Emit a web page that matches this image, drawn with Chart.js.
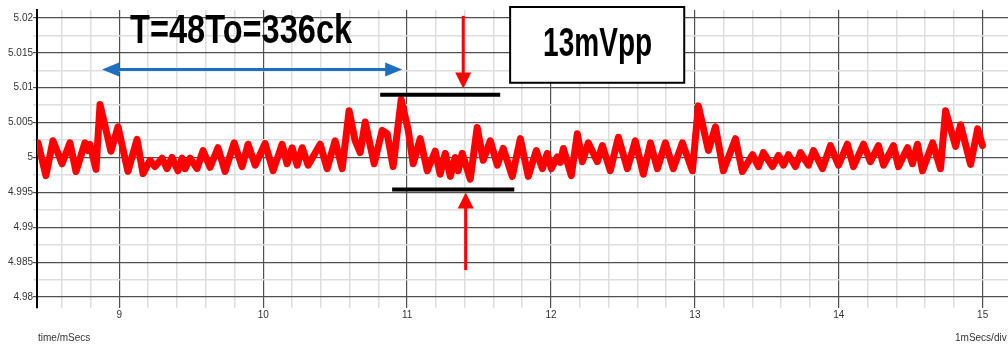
<!doctype html>
<html lang="en">
<head>
<meta charset="utf-8">
<title>Ripple 13mVpp</title>
<script src="https://cdn.jsdelivr.net/npm/chart.js@4.4.1/dist/chart.umd.min.js"></script>
<style>
  body { margin: 0; background: #fff; }
  canvas { display: block; }
</style>
</head>
<body>
<canvas id="scope" width="1008" height="345"></canvas>
<script>
// time in ms, output in V
var times = [
  8.428, 8.435, 8.490, 8.539, 8.574, 8.602, 8.657, 8.699, 8.761, 8.782,
  8.796, 8.838, 8.866, 8.942, 8.991, 9.060, 9.123, 9.165, 9.213, 9.248,
  9.297, 9.332, 9.366, 9.408, 9.436, 9.457, 9.492, 9.540, 9.582, 9.631,
  9.686, 9.735, 9.798, 9.853, 9.895, 9.944, 10.013, 10.069, 10.131, 10.166,
  10.201, 10.236, 10.271, 10.312, 10.396, 10.444, 10.500, 10.549, 10.597, 10.639,
  10.674, 10.709, 10.771, 10.827, 10.862, 10.903, 10.959, 11.008, 11.042, 11.091,
  11.140, 11.195, 11.230, 11.265, 11.300, 11.334, 11.355, 11.383, 11.439, 11.487,
  11.529, 11.578, 11.627, 11.668, 11.731, 11.787, 11.842, 11.898, 11.940, 11.974,
  12.002, 12.044, 12.065, 12.086, 12.141, 12.183, 12.218, 12.259, 12.322, 12.357,
  12.412, 12.468, 12.531, 12.586, 12.642, 12.691, 12.739, 12.795, 12.850, 12.913,
  12.983, 13.024, 13.094, 13.143, 13.198, 13.282, 13.330, 13.400, 13.442, 13.476,
  13.539, 13.581, 13.615, 13.650, 13.699, 13.734, 13.789, 13.824, 13.887, 13.942,
  13.998, 14.060, 14.102, 14.172, 14.220, 14.276, 14.311, 14.380, 14.415, 14.478,
  14.512, 14.547, 14.582, 14.652, 14.707, 14.742, 14.812, 14.846, 14.916, 14.965,
  14.999
];
var volts = [
  5.0013, 5.0021, 4.9974, 5.0024, 5.0006, 4.9991, 5.0021, 4.9980, 5.0021, 5.0010,
  5.0019, 4.9983, 5.0076, 5.0009, 5.0044, 4.9980, 5.0026, 4.9977, 4.9996, 4.9987,
  4.9999, 4.9984, 5.0000, 4.9981, 4.9999, 4.9984, 4.9999, 4.9984, 5.0010, 4.9986,
  5.0014, 4.9980, 5.0021, 4.9987, 5.0019, 4.9989, 5.0020, 4.9981, 5.0019, 4.9991,
  5.0014, 4.9989, 5.0014, 4.9989, 5.0019, 4.9984, 5.0024, 4.9984, 5.0067, 5.0024,
  5.0007, 5.0051, 4.9991, 5.0039, 5.0034, 4.9987, 5.0083, 5.0039, 4.9991, 5.0027,
  4.9981, 5.0009, 4.9976, 5.0006, 4.9973, 5.0000, 4.9981, 5.0006, 4.9969, 5.0043,
  4.9996, 5.0024, 4.9989, 5.0013, 4.9973, 5.0027, 4.9973, 5.0010, 4.9984, 5.0006,
  4.9984, 5.0001, 4.9993, 5.0013, 4.9974, 5.0034, 4.9994, 5.0021, 4.9994, 5.0017,
  4.9981, 5.0029, 4.9984, 5.0024, 4.9976, 5.0021, 4.9984, 5.0021, 4.9984, 5.0021,
  4.9981, 5.0074, 5.0010, 5.0044, 4.9981, 5.0027, 4.9980, 5.0004, 4.9987, 5.0007,
  4.9987, 5.0003, 4.9989, 5.0004, 4.9987, 5.0007, 4.9989, 5.0010, 4.9984, 5.0017,
  4.9989, 5.0019, 4.9987, 5.0019, 4.9994, 5.0017, 4.9989, 5.0017, 4.9987, 5.0014,
  4.9991, 5.0019, 4.9981, 5.0021, 4.9984, 5.0067, 5.0016, 5.0047, 4.9990, 5.0041,
  5.0017
];

var xTickValues = [9, 10, 11, 12, 13, 14, 15];
var xTickLabels = ['9', '10', '11', '12', '13', '14', '15'];
var yTickValues = [4.98, 4.985, 4.99, 4.995, 5, 5.005, 5.01, 5.015, 5.02];
var yTickLabels = ['4.98', '4.985', '4.99', '4.995', '5', '5.005', '5.01', '5.015', '5.02'];

var xMin = 8.428, xMax = 15.176;
var yMin = 4.97843, yMax = 5.02114;

// annotations, placed in data units
var periodArrow = { t0: 8.880, t1: 10.966, v: 5.0126 };
var periodText = { text: 'T=48To=336ck', t0: 9.075, t1: 10.618, v: 5.0164 };
var topLine = { t0: 10.813, t1: 11.647, v: 5.0090 };
var bottomLine = { t0: 10.896, t1: 11.745, v: 4.99543 };
var downArrow = { t: 11.390, vFrom: 5.0203, vTo: 5.0099 };
var upArrow = { t: 11.407, vFrom: 4.98386, vTo: 4.9950 };
var ppBox = { text: '13mVpp', t0: 11.716, t1: 12.926, v0: 5.02157, v1: 5.01071, textT0: 11.945, textT1: 12.703, textV: 5.01457 };

var FONT = "'Liberation Sans', Arial, sans-serif";

function findIdx(list, v, eps) {
  for (var i = 0; i < list.length; i++) {
    if (Math.abs(list[i] - v) < eps) return i;
  }
  return -1;
}

function arrowHead(ctx, x, y, ang, len, half) {
  ctx.beginPath();
  ctx.moveTo(x, y);
  ctx.lineTo(x - len * Math.cos(ang) - half * Math.sin(ang), y - len * Math.sin(ang) + half * Math.cos(ang));
  ctx.lineTo(x - len * Math.cos(ang) + half * Math.sin(ang), y - len * Math.sin(ang) - half * Math.cos(ang));
  ctx.closePath();
  ctx.fill();
}

function fittedText(ctx, text, x, y, w, size) {
  ctx.save();
  ctx.font = 'bold ' + size + 'px ' + FONT;
  var m = ctx.measureText(text).width;
  ctx.translate(x, y);
  ctx.scale(w / m, 1);
  ctx.textAlign = 'left';
  ctx.textBaseline = 'alphabetic';
  ctx.fillText(text, 0, 0);
  ctx.restore();
}

var annotate = {
  id: 'annotate',
  afterDatasetsDraw: function (chart) {
    var ctx = chart.ctx;
    var xs = chart.scales.x, ys = chart.scales.y;
    var area = chart.chartArea;
    ctx.save();

    // period arrow
    var ax0 = xs.getPixelForValue(periodArrow.t0), ax1 = xs.getPixelForValue(periodArrow.t1);
    var ay = ys.getPixelForValue(periodArrow.v);
    ctx.strokeStyle = '#1f6fc0';
    ctx.fillStyle = '#1f6fc0';
    ctx.lineWidth = 3;
    ctx.beginPath();
    ctx.moveTo(ax0 + 10, ay);
    ctx.lineTo(ax1 - 10, ay);
    ctx.stroke();
    arrowHead(ctx, ax0, ay, Math.PI, 17, 7);
    arrowHead(ctx, ax1, ay, 0, 17, 7);

    ctx.fillStyle = '#000';
    fittedText(ctx, periodText.text, xs.getPixelForValue(periodText.t0), ys.getPixelForValue(periodText.v),
      xs.getPixelForValue(periodText.t1) - xs.getPixelForValue(periodText.t0), 41);

    // peak / valley bars
    ctx.strokeStyle = '#000';
    ctx.lineWidth = 4;
    [topLine, bottomLine].forEach(function (l) {
      var y = ys.getPixelForValue(l.v);
      ctx.beginPath();
      ctx.moveTo(xs.getPixelForValue(l.t0), y);
      ctx.lineTo(xs.getPixelForValue(l.t1), y);
      ctx.stroke();
    });

    // red arrows
    ctx.strokeStyle = '#ff0000';
    ctx.fillStyle = '#ff0000';
    ctx.lineWidth = 3;
    [downArrow, upArrow].forEach(function (a) {
      var x = xs.getPixelForValue(a.t);
      var y0 = ys.getPixelForValue(a.vFrom), y1 = ys.getPixelForValue(a.vTo);
      var dir = y1 > y0 ? 1 : -1;
      ctx.beginPath();
      ctx.moveTo(x, y0);
      ctx.lineTo(x, y1 - dir * 12);
      ctx.stroke();
      arrowHead(ctx, x, y1, dir > 0 ? Math.PI / 2 : -Math.PI / 2, 16, 8);
    });

    // 13mVpp box
    var bx0 = xs.getPixelForValue(ppBox.t0), bx1 = xs.getPixelForValue(ppBox.t1);
    var by0 = ys.getPixelForValue(ppBox.v0), by1 = ys.getPixelForValue(ppBox.v1);
    ctx.fillStyle = '#fff';
    ctx.fillRect(bx0, by0, bx1 - bx0, by1 - by0);
    ctx.strokeStyle = '#000';
    ctx.lineWidth = 2;
    ctx.strokeRect(bx0, by0, bx1 - bx0, by1 - by0);
    ctx.fillStyle = '#000';
    fittedText(ctx, ppBox.text, xs.getPixelForValue(ppBox.textT0), ys.getPixelForValue(ppBox.textV),
      xs.getPixelForValue(ppBox.textT1) - xs.getPixelForValue(ppBox.textT0), 40);

    // axis captions
    ctx.font = '10px ' + FONT;
    ctx.fillStyle = '#333';
    ctx.textBaseline = 'middle';
    ctx.textAlign = 'left';
    ctx.fillText('time/mSecs', area.left + 1, 338);
    ctx.fillText('1mSecs/div', 955, 338);
    ctx.restore();
  }
};

var points = times.map(function (t, i) { return { x: t, y: volts[i] }; });

new Chart(document.getElementById('scope'), {
  type: 'line',
  data: {
    datasets: [{
      data: points,
      borderColor: '#ff0000',
      borderWidth: 7,
      borderJoinStyle: 'round',
      borderCapStyle: 'round',
      pointRadius: 0,
      tension: 0,
      fill: false
    }]
  },
  options: {
    responsive: false,
    animation: false,
    events: [],
    layout: { padding: { top: 10, right: 0, bottom: 0, left: 0 } },
    plugins: { legend: { display: false }, tooltip: { enabled: false } },
    scales: {
      x: {
        type: 'linear',
        min: xMin,
        max: xMax,
        afterFit: function (s) { s.height = 37; },
        afterBuildTicks: function (s) {
          var t = [];
          for (var k = 43; k <= 75; k++) t.push({ value: k / 5 });
          s.ticks = t;
        },
        border: { display: false },
        grid: {
          drawTicks: false,
          lineWidth: function (c) { return findIdx(xTickValues, c.tick.value, 1e-6) >= 0 ? 1.2 : 1.5; },
          color: function (c) { return findIdx(xTickValues, c.tick.value, 1e-6) >= 0 ? '#505050' : '#dedede'; }
        },
        ticks: {
          autoSkip: false,
          maxRotation: 0,
          padding: 1,
          color: '#333',
          font: { family: FONT, size: 10 },
          callback: function (v) {
            var i = findIdx(xTickValues, v, 1e-6);
            return i >= 0 ? xTickLabels[i] : '';
          }
        }
      },
      y: {
        min: yMin,
        max: yMax,
        afterFit: function (s) { s.width = 37; },
        afterBuildTicks: function (s) {
          var t = [];
          for (var k = 1992; k <= 2008; k++) t.push({ value: k * 0.0025 });
          s.ticks = t;
        },
        border: { display: true, color: '#000', width: 2 },
        grid: {
          tickLength: 4,
          lineWidth: function (c) { return findIdx(yTickValues, c.tick.value, 1e-7) >= 0 ? 1.2 : 1.5; },
          color: function (c) { return findIdx(yTickValues, c.tick.value, 1e-7) >= 0 ? '#505050' : '#dedede'; }
        },
        ticks: {
          autoSkip: false,
          padding: 0,
          color: '#333',
          font: { family: FONT, size: 10 },
          callback: function (v) {
            var i = findIdx(yTickValues, v, 1e-7);
            return i >= 0 ? yTickLabels[i] : '';
          }
        }
      }
    }
  },
  plugins: [annotate]
});
</script>
</body>
</html>
